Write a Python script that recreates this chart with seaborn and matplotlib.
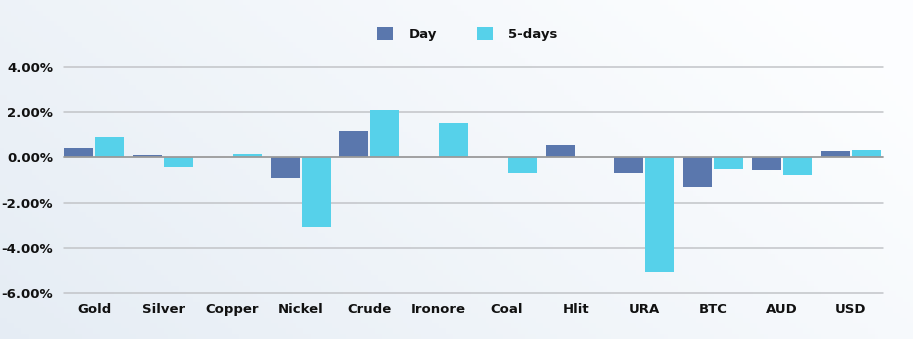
import numpy as np
import pandas as pd
import matplotlib
matplotlib.use("Agg")
import matplotlib.pyplot as plt
import seaborn as sns
from matplotlib.patches import Patch
from matplotlib.ticker import FuncFormatter

categories = ["Gold", "Silver", "Copper", "Nickel", "Crude", "Ironore", "Coal", "Hlit", "URA", "BTC", "AUD", "USD"]
day = [0.43, 0.12, 0.0, -0.89, 1.17, 0.0, 0.0, 0.55, -0.67, -1.30, -0.54, 0.27]
five_days = [0.89, -0.43, 0.14, -3.10, 2.09, 1.50, -0.69, 0.0, -5.08, -0.50, -0.80, 0.33]
series_names = ["Day", "5-days"]
colors = ["#5a77ad", "#56d1ea"]

df = pd.DataFrame({
    "cat": categories * 2,
    "val": day + five_days,
    "series": [series_names[0]] * len(categories) + [series_names[1]] * len(categories),
})

sns.set_style("white")
plt.rcParams["font.family"] = ["DejaVu Sans"]

fig = plt.figure(figsize=(9.13, 3.39), dpi=100)
# background gradient
bg = fig.add_axes([0, 0, 1, 1], zorder=-10)
xg = np.linspace(0, 1, 256)
yg = np.linspace(0, 1, 64)
X, Y = np.meshgrid(xg, yg)
t = np.clip(0.75 * X + 0.35 * (1 - Y), 0, 1)
c0 = np.array([0.90, 0.928, 0.958])
c1 = np.array([0.99, 0.995, 1.0])
img = c0[None, None, :] * (1 - t[..., None]) + c1[None, None, :] * t[..., None]
bg.imshow(img, aspect="auto", extent=[0, 1, 0, 1], origin="upper")
bg.axis("off")

ax = fig.add_axes([60 / 913, 1 - 293 / 339, (885 - 60) / 913, (293 - 67) / 339])
ax.patch.set_alpha(0)
sns.barplot(data=df, x="cat", y="val", hue="series", palette=colors, ax=ax,
            width=0.9, gap=0.06, legend=False, saturation=1, zorder=3,
            edgecolor="none", linewidth=0)
ax.set_xlim(-0.5, len(categories) - 0.5)
ax.set_ylim(-6, 4)
ax.set_yticks([-6, -4, -2, 0, 2, 4])
ax.yaxis.set_major_formatter(FuncFormatter(lambda v, p: f"{v:.2f}%".replace("\u2212", "-")))
for yv in [-6, -4, -2, 2, 4]:
    ax.axhline(yv, color="#c2c4c8", lw=1.1, zorder=1, clip_on=False, xmin=0.005, xmax=0.997)
ax.axhline(0, color="#9a9a9a", lw=1.3, zorder=4, xmin=0.005, xmax=0.997)
for s in ax.spines.values():
    s.set_visible(False)
ax.set_xlabel("")
ax.set_ylabel("")
ax.tick_params(axis="both", length=0, labelsize=9.5)
ax.tick_params(axis="y", pad=5)
ax.tick_params(axis="x", pad=7)
for lab in ax.get_xticklabels() + ax.get_yticklabels():
    lab.set_fontweight("bold")
    lab.set_color("#111111")

handles = [Patch(facecolor=colors[0], edgecolor="none"), Patch(facecolor=colors[1], edgecolor="none")]
leg = fig.legend(handles, series_names, loc="center", bbox_to_anchor=(0.512, 0.9), ncol=2,
                 frameon=False, handlelength=1.2, handleheight=1.2, columnspacing=3.0,
                 handletextpad=1.2, prop={"weight": "bold", "size": 9.5})
for t_ in leg.get_texts():
    t_.set_color("#111111")

fig.savefig("out.png", dpi=100)
